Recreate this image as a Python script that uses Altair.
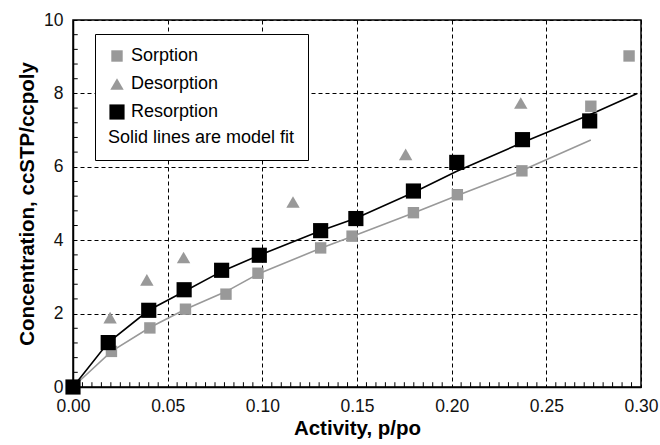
import altair as alt
import pandas as pd

# ---- data ----
sorp_x = [0.0, 0.0203, 0.0406, 0.0594, 0.0808, 0.0977, 0.1308, 0.1474, 0.1798, 0.2030, 0.2371, 0.2735, 0.2937]
sorp_y = [0.0, 0.97, 1.61, 2.12, 2.53, 3.10, 3.79, 4.11, 4.75, 5.24, 5.89, 7.65, 9.02]

des_x = [0.0196, 0.0390, 0.0584, 0.1162, 0.1757, 0.2365]
des_y = [1.89, 2.92, 3.53, 5.04, 6.34, 7.74]

res_x = [0.0, 0.0186, 0.0400, 0.0587, 0.0785, 0.0984, 0.1308, 0.1494, 0.1798, 0.2027, 0.2374, 0.2729]
res_y = [0.0, 1.21, 2.09, 2.65, 3.18, 3.59, 4.26, 4.59, 5.34, 6.12, 6.74, 7.25]

sorp_fit_x = [0.0, 0.0203, 0.0406, 0.0594, 0.0808, 0.0977, 0.1308, 0.1474, 0.1798, 0.2030, 0.2371, 0.2735]
sorp_fit_y = [0.0, 0.97, 1.62, 2.12, 2.60, 3.08, 3.78, 4.10, 4.74, 5.22, 5.90, 6.73]

res_fit_x = [0.0, 0.0186, 0.0400, 0.0587, 0.0785, 0.0984, 0.1308, 0.1494, 0.1798, 0.2027, 0.2374, 0.2729, 0.298]
res_fit_y = [0.0, 1.21, 2.09, 2.60, 3.15, 3.59, 4.26, 4.60, 5.30, 5.88, 6.66, 7.42, 8.00]

series_names = ["Sorption", "Desorption", "Resorption"]
series_colors = ["#999999", "#999999", "#000000"]
series_shapes = ["square", "triangle-up", "square"]
series_sizes = [130, 230, 140]

x_major = [0.0, 0.05, 0.10, 0.15, 0.20, 0.25, 0.30]
y_major = [0, 2, 4, 6, 8, 10]
x_minor = [0.005, 0.01, 0.015, 0.02, 0.025, 0.03, 0.035, 0.04, 0.045, 0.055, 0.06, 0.065,
           0.07, 0.075, 0.08, 0.085, 0.09, 0.095, 0.105, 0.11, 0.115, 0.12, 0.125, 0.13,
           0.135, 0.14, 0.145, 0.155, 0.16, 0.165, 0.17, 0.175, 0.18, 0.185, 0.19, 0.195,
           0.205, 0.21, 0.215, 0.22, 0.225, 0.23, 0.235, 0.24, 0.245, 0.255, 0.26, 0.265,
           0.27, 0.275, 0.28, 0.285, 0.29, 0.295]
y_minor = [0.4, 0.8, 1.2, 1.6, 2.4, 2.8, 3.2, 3.6, 4.4, 4.8, 5.2, 5.6,
           6.4, 6.8, 7.2, 7.6, 8.4, 8.8, 9.2, 9.6]

FONT = "Liberation Sans"
W, H = 568, 367

pts = pd.concat([
    pd.DataFrame({"x": sorp_x, "y": sorp_y, "series": "Sorption"}),
    pd.DataFrame({"x": des_x, "y": des_y, "series": "Desorption"}),
    pd.DataFrame({"x": res_x, "y": res_y, "series": "Resorption"}),
], ignore_index=True)

sfit = pd.DataFrame({"x": sorp_fit_x, "y": sorp_fit_y})
rfit = pd.DataFrame({"x": res_fit_x, "y": res_fit_y})
xmin_df = pd.DataFrame({"tx": x_minor})
ymin_df = pd.DataFrame({"ty": y_minor})

xscale = alt.Scale(domain=[0, 0.3], nice=False, zero=False)
yscale = alt.Scale(domain=[0, 10], nice=False, zero=False)

x_axis = alt.Axis(values=x_major, format=".2f", title="Activity, p/po", ticks=False,
                  grid=True, gridColor="#000000", gridDash=[4, 3], gridWidth=1,
                  labelFontSize=17.5, titleFontSize=20.5, labelPadding=10, titlePadding=4,
                  labelFlush=False, orient="bottom")
y_axis = alt.Axis(values=y_major, format="d", title="Concentration, ccSTP/ccpoly", ticks=False,
                  grid=True, gridColor="#000000", gridDash=[4, 3], gridWidth=1,
                  labelFontSize=17.5, titleFontSize=20.5, labelPadding=10, titlePadding=6,
                  labelFlush=False, orient="left")

X = alt.X("x:Q", scale=xscale, axis=x_axis)
Y = alt.Y("y:Q", scale=yscale, axis=y_axis)

line_s = alt.Chart(sfit).mark_line(color="#999999", strokeWidth=1.6).encode(x=X, y=Y)
line_r = alt.Chart(rfit).mark_line(color="#000000", strokeWidth=1.6).encode(x=X, y=Y)

legend = alt.Legend(
    title="Solid lines are model fit", titleOrient="bottom", titleFontWeight="normal",
    titleFontSize=18, titleFont=FONT, titleColor="#000000", titlePadding=8, titleLimit=500,
    labelFontSize=18, labelFont=FONT, labelColor="#000000", labelLimit=500,
    orient="none", legendX=22, legendY=14,
    fillColor="white", strokeColor="#000000", padding=13,
    symbolStrokeWidth=0, rowPadding=10, labelOffset=5,
)

points = alt.Chart(pts).mark_point(filled=True, opacity=1).encode(
    x=X, y=Y,
    color=alt.Color("series:N", scale=alt.Scale(domain=series_names, range=series_colors), legend=legend),
    shape=alt.Shape("series:N", scale=alt.Scale(domain=series_names, range=series_shapes), legend=legend),
    size=alt.Size("series:N", scale=alt.Scale(domain=series_names, range=series_sizes), legend=legend),
    order=alt.Order("ord:Q"),
).transform_calculate(ord="datum.series == 'Resorption' ? 2 : 1")

# minor tick marks (inward) along the bottom and left edges, positioned through the scales
xticks = alt.Chart(xmin_df).mark_rule(strokeWidth=1).encode(
    x=alt.X("tx:Q", scale=xscale, axis=x_axis),
    y=alt.datum(0.0), y2=alt.datum(0.13),
    color=alt.value("#000000"),
)
yticks = alt.Chart(ymin_df).mark_rule(strokeWidth=1).encode(
    y=alt.Y("ty:Q", scale=yscale, axis=y_axis),
    x=alt.datum(0.0), x2=alt.datum(0.0025),
    color=alt.value("#000000"),
)

chart = alt.layer(line_s, line_r, xticks, yticks, points).properties(
    width=W, height=H,
    autosize=alt.AutoSizeParams(type="none"),
    padding={"left": 73, "top": 20, "right": 19, "bottom": 58},
    background="white",
).configure_view(
    stroke="#000000", strokeWidth=1.5,
).configure_axis(
    labelFont=FONT, titleFont=FONT, labelColor="#111111", titleColor="#000000",
    titleFontWeight="bold", domainColor="#000000", domainWidth=1.5,
)

chart.save("out.html", embed_options={"renderer": "svg", "actions": False})
